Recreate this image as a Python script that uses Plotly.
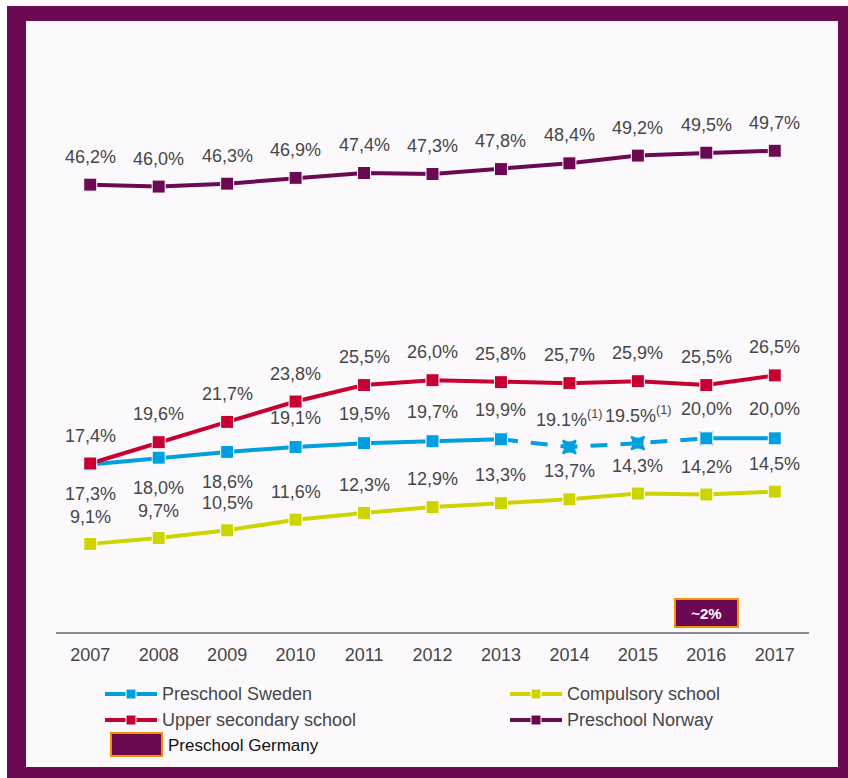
import plotly.graph_objects as go

# ---- data -------------------------------------------------------------
years = [2007, 2008, 2009, 2010, 2011, 2012, 2013, 2014, 2015, 2016, 2017]
preschool_norway = [46.2, 46.0, 46.3, 46.9, 47.4, 47.3, 47.8, 48.4, 49.2, 49.5, 49.7]
upper_secondary = [17.4, 19.6, 21.7, 23.8, 25.5, 26.0, 25.8, 25.7, 25.9, 25.5, 26.5]
preschool_sweden = [17.3, 18.0, 18.6, 19.1, 19.5, 19.7, 19.9, 19.1, 19.5, 20.0, 20.0]
sweden_footnote = [False, False, False, False, False, False, False, True, True, False, False]
compulsory = [9.1, 9.7, 10.5, 11.6, 12.3, 12.9, 13.3, 13.7, 14.3, 14.2, 14.5]
germany_year = 2016
germany_value = 2

series_names = ["Preschool Sweden", "Compulsory school", "Upper secondary school",
                "Preschool Norway", "Preschool Germany"]

# ---- styling ----------------------------------------------------------
PURPLE = "#6b0a52"
RED = "#c70032"
BLUE = "#009fe0"
YELLOW = "#cdd400"
ORANGE = "#f39200"
TEXT = "#464646"
FONT = "Liberation Sans, Arial, sans-serif"

W, H = 848, 778
ML, MR, MT, MB = 56, 39, 51, 146
PW, PH = W - ML - MR, H - MT - MB


def px_x(px):
    return (px - ML) / PW


def px_y(py):
    return (H - MB - py) / PH


def fmt(v, sep=","):
    return f"{v:.1f}".replace(".", sep) + "%"


fig = go.Figure()


def line_trace(x, y, color, dash="solid", symbol="square", size=13, mline=None):
    fig.add_trace(go.Scatter(
        x=x, y=y, mode="lines+markers",
        line=dict(color=color, width=4, dash=dash),
        marker=dict(symbol=symbol, size=size, color=color,
                    line=mline or dict(color="white", width=1)),
        showlegend=False, hoverinfo="x+y",
    ))


line_trace(years, preschool_norway, PURPLE)
line_trace(years, compulsory, YELLOW)
# Sweden: solid until 2013, dashed through the provisional years, solid again
line_trace(years[6:10], preschool_sweden[6:10], BLUE, dash="17px,13px",
           symbol="star-square", size=12, mline=dict(color=BLUE, width=2))
line_trace(years[:7], preschool_sweden[:7], BLUE)
line_trace(years[9:], preschool_sweden[9:], BLUE)
line_trace(years, upper_secondary, RED)

annotations = []


def label(x, y, text, shift, size=18, color=TEXT):
    annotations.append(dict(x=x, y=y, text=text, showarrow=False, yshift=shift,
                            font=dict(family=FONT, size=size, color=color)))


for yr, v in zip(years, preschool_norway):
    label(yr, v, fmt(v), 28)
for yr, v in zip(years, upper_secondary):
    label(yr, v, fmt(v), 28)
for i, (yr, v) in enumerate(zip(years, compulsory)):
    label(yr, v, fmt(v), 27 if i < 3 else 28)
for i, (yr, v) in enumerate(zip(years, preschool_sweden)):
    if sweden_footnote[i]:
        txt = fmt(v, ".") + "<sup>(1)</sup>"
    else:
        txt = fmt(v)
    # early years sit right above the compulsory labels
    label(yr, v, txt, -30 if i < 3 else 29)

# Germany marker box
annotations.append(dict(
    x=germany_year, y=germany_value, text="<b>~2%</b>", showarrow=False,
    bgcolor=PURPLE, bordercolor=ORANGE, borderwidth=2, borderpad=3,
    width=55, height=20,
    font=dict(family=FONT, size=15, color="white"),
))

shapes = [
    # outer frame and inner panel
    dict(type="rect", xref="paper", yref="paper", layer="below",
         x0=px_x(7), x1=px_x(848), y0=px_y(778), y1=px_y(6),
         fillcolor=PURPLE, line=dict(width=0)),
    dict(type="rect", xref="paper", yref="paper", layer="below",
         x0=px_x(26), x1=px_x(838), y0=px_y(767), y1=px_y(21),
         fillcolor="#fbf9fb", line=dict(width=0)),
]

# legend (two columns)
legend_items = [
    (series_names[0], BLUE, 103, 694),
    (series_names[2], RED, 103, 720),
    (series_names[1], YELLOW, 508, 694),
    (series_names[3], PURPLE, 508, 720),
]
for name, color, x0, yc in legend_items:
    shapes.append(dict(type="line", xref="paper", yref="paper",
                       x0=px_x(x0 + 2), x1=px_x(x0 + 54), y0=px_y(yc), y1=px_y(yc),
                       line=dict(color=color, width=4)))
    shapes.append(dict(type="rect", xref="paper", yref="paper",
                       x0=px_x(x0 + 23), x1=px_x(x0 + 33), y0=px_y(yc + 5), y1=px_y(yc - 5),
                       fillcolor=color, line=dict(color="white", width=1)))
    annotations.append(dict(xref="paper", yref="paper", x=px_x(x0 + 57), y=px_y(yc),
                            xanchor="left", yanchor="middle", showarrow=False,
                            text=name, font=dict(family=FONT, size=18, color=TEXT)))

shapes.append(dict(type="rect", xref="paper", yref="paper",
                   x0=px_x(111), x1=px_x(162), y0=px_y(756), y1=px_y(733),
                   fillcolor=PURPLE, line=dict(color=ORANGE, width=2)))
annotations.append(dict(xref="paper", yref="paper", x=px_x(166), y=px_y(745),
                        xanchor="left", yanchor="middle", showarrow=False,
                        text=series_names[4],
                        font=dict(family=FONT, size=17, color="#111111")))

fig.update_layout(
    width=W, height=H,
    margin=dict(l=ML, r=MR, t=MT, b=MB, pad=0),
    paper_bgcolor="white", plot_bgcolor="rgba(0,0,0,0)",
    showlegend=False,
    shapes=shapes, annotations=annotations,
    xaxis=dict(range=[2006.5, 2017.5], tickvals=years, ticktext=[str(y) for y in years],
               showgrid=False, zeroline=False, showline=True, linecolor="#8c8c8c",
               linewidth=2, ticks="outside", ticklen=5, tickcolor="rgba(0,0,0,0)",
               tickfont=dict(family=FONT, size=18, color=TEXT), fixedrange=True),
    yaxis=dict(range=[0, 60], visible=False, fixedrange=True),
    font=dict(family=FONT),
)

fig.write_html("out.html")
